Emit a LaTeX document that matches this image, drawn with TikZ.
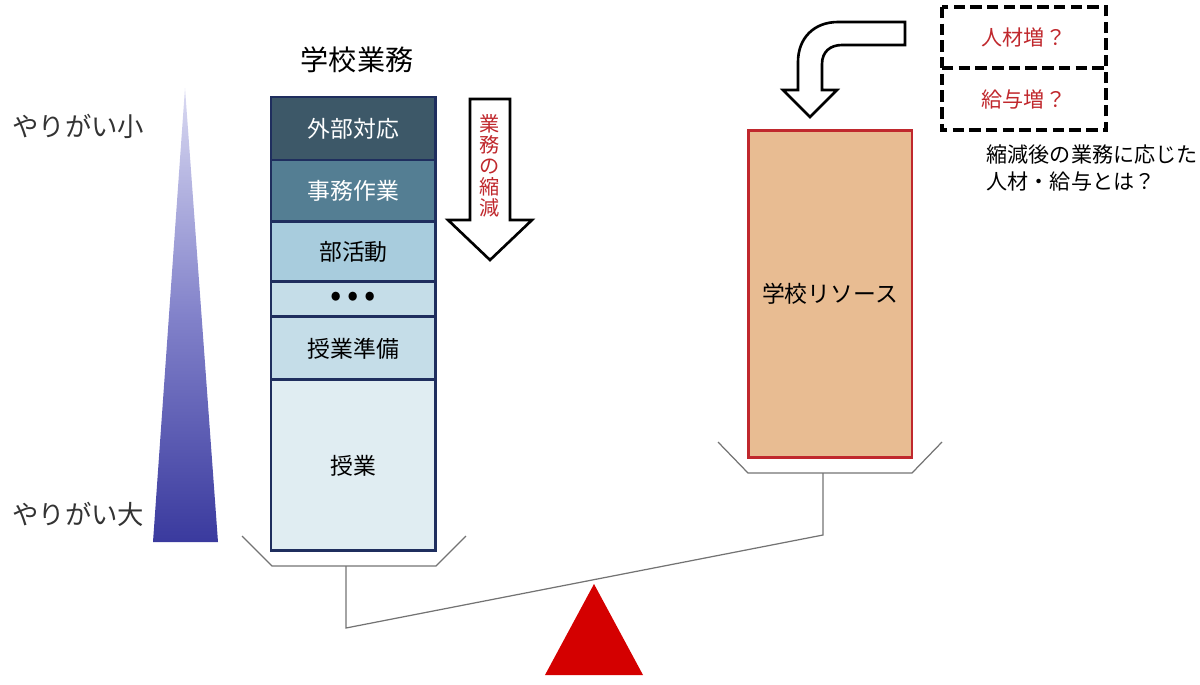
\documentclass[tikz,border=0pt]{standalone}
\usepackage{fontspec}
\setmainfont{Noto Sans CJK JP}
\usetikzlibrary{positioning}

\definecolor{navyline}{RGB}{31,46,94}
\definecolor{rowA}{RGB}{61,88,104}
\definecolor{rowB}{RGB}{84,126,147}
\definecolor{rowC}{RGB}{168,204,221}
\definecolor{rowD}{RGB}{197,221,232}
\definecolor{rowE}{RGB}{224,237,242}
\definecolor{redtext}{RGB}{192,40,45}
\definecolor{resfill}{RGB}{232,188,146}
\definecolor{fulcrum}{RGB}{212,0,0}
\definecolor{gradtop}{RGB}{218,218,242}
\definecolor{gradmid}{RGB}{130,130,202}
\definecolor{gradblue}{RGB}{58,58,158}

\begin{document}
\begin{tikzpicture}[x=0.02cm, y=-0.02cm, thick]
    % Styles
    \tikzstyle{row} = [rectangle, draw=navyline, line width=1.7pt, outer sep=0pt, minimum width=3.3cm, font=\fontsize{13}{15}\selectfont, inner sep=0pt]
    \tikzstyle{pan} = [draw=black!55, line width=0.7pt]
    \tikzstyle{hollow_arrow} = [draw=black, line width=1.5pt, fill=white, line join=miter]
    \tikzstyle{q_box} = [rectangle, outer sep=0pt, minimum width=3.28cm, anchor=north west, text=redtext, font=\fontsize{12}{14}\selectfont]
    \tikzstyle{q_line} = [draw=black, line width=2pt, dash pattern=on 6.5pt off 3pt]
    \tikzstyle{side_label} = [anchor=west, text=black!80, font=\fontsize{15}{17}\selectfont]

    \useasboundingbox (0,0) rectangle (1200,684);

    % Gradient scale of motivation
    \shade[top color=gradtop, bottom color=gradblue, middle color=gradmid] (185,88) -- (218,542) -- (153,542) -- cycle;
    \node [side_label] (low) at (6,126) {やりがい小};
    \node [side_label] (high) at (6,514) {やりがい大};

    % Stack of school tasks
    \node [font=\fontsize{16}{18}\selectfont] (title) at (357,60) {学校業務};
    \node [row, fill=rowA, text=white, minimum height=1.26cm, anchor=north west] (r1) at (271,97) {外部対応};
    \node [row, fill=rowB, text=white, minimum height=1.24cm, below=0pt of r1] (r2) {事務作業};
    \node [row, fill=rowC, minimum height=1.2cm, below=0pt of r2] (r3) {部活動};
    \node [row, fill=rowD, minimum height=0.7cm, below=0pt of r3, font=\fontsize{19}{19}\selectfont] (r4) {\textbullet\,\textbullet\,\textbullet};
    \node [row, fill=rowD, minimum height=1.26cm, below=0pt of r4] (r5) {授業準備};
    \node [row, fill=rowE, minimum height=3.42cm, below=0pt of r5] (r6) {授業};

    % Reduction arrow
    \draw [hollow_arrow] (470,99) -- (510,99) -- (510,220) -- (532,220) -- (490,260) -- (448,220) -- (470,220) -- cycle;
    \node [text=redtext, font=\fontsize{11.5}{12}\selectfont, align=center] (cut) at (490,166) {業\\務\\の\\縮\\減};

    % School resources
    \node [rectangle, draw=redtext, line width=1.7pt, fill=resfill, minimum width=3.28cm, minimum height=6.54cm, font=\fontsize{13}{15}\selectfont] (res) at (830,294) {学校リソース};

    % Bent arrow into resources
    \draw [hollow_arrow] (905,22) -- (838,22) .. controls (814,22) and (798,38) .. (798,62) -- (798,90) -- (783,90) -- (810,117) -- (837,90) -- (822,90) -- (822,64) .. controls (822,52) and (830,45) .. (842,45) -- (905,45) -- cycle;

    % Open questions
    \node [q_box, minimum height=1.22cm] (staff) at (942,7) {人材増？};
    \node [q_box, minimum height=1.24cm, below=0pt of staff] (pay) {給与増？};
    \draw [q_line] (staff.north west) rectangle (pay.south east);
    \draw [q_line] (staff.south west) -- (staff.south east);
    \node [anchor=north west, align=left, font=\fontsize{12}{15.5}\selectfont, inner sep=0pt] (note) at (986,144) {縮減後の業務に応じた\\人材・給与とは？};

    % Balance
    \coordinate (lstem) at (346,566);
    \coordinate (rstem) at (823,473);
    \draw [pan] (242,536) -- (272,566) -- (436,566) -- (466,536);
    \draw [pan] (718,442) -- (748,473) -- (912,473) -- (942,442);
    \draw [pan] (lstem) -- (346,628) -- (823,535) -- (rstem);
    \fill [fulcrum] (594,584) -- (643,675) -- (545,675) -- cycle;

\end{tikzpicture}
\end{document}
